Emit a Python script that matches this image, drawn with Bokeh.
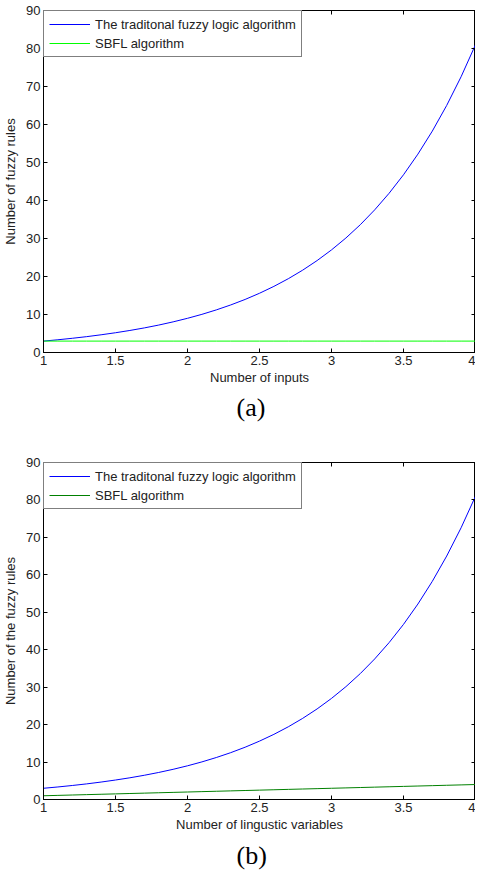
from bokeh.plotting import figure
from bokeh.layouts import column
from bokeh.models import (LinearAxis, FixedTicker, CustomJSTickFormatter, Title,
                          Legend, LegendItem, Range1d, CustomLabelingPolicy)
from bokeh.embed import file_html
from bokeh.resources import INLINE

# ---------------- data ----------------
x_vals = [1.0, 1.1, 1.2, 1.3, 1.4, 1.5, 1.6, 1.7, 1.8, 1.9, 2.0,
          2.1, 2.2, 2.3, 2.4, 2.5, 2.6, 2.7, 2.8, 2.9, 3.0,
          3.1, 3.2, 3.3, 3.4, 3.5, 3.6, 3.7, 3.8, 3.9, 4.0]
traditional_rules = [3.00, 3.35, 3.74, 4.17, 4.66, 5.20, 5.80, 6.47, 7.22, 8.06, 9.00,
                     10.04, 11.21, 12.51, 13.96, 15.59, 17.40, 19.42, 21.67, 24.19, 27.00,
                     30.13, 33.63, 37.54, 41.90, 46.77, 52.20, 58.26, 65.02, 72.57, 81.00]
sbfl_rules_a = [3.0, 3.0, 3.0, 3.0, 3.0, 3.0, 3.0, 3.0, 3.0, 3.0, 3.0,
                3.0, 3.0, 3.0, 3.0, 3.0, 3.0, 3.0, 3.0, 3.0, 3.0,
                3.0, 3.0, 3.0, 3.0, 3.0, 3.0, 3.0, 3.0, 3.0, 3.0]
sbfl_rules_b = [1.0, 1.1, 1.2, 1.3, 1.4, 1.5, 1.6, 1.7, 1.8, 1.9, 2.0,
                2.1, 2.2, 2.3, 2.4, 2.5, 2.6, 2.7, 2.8, 2.9, 3.0,
                3.1, 3.2, 3.3, 3.4, 3.5, 3.6, 3.7, 3.8, 3.9, 4.0]
x_ticks = [1, 1.5, 2, 2.5, 3, 3.5, 4]
y_ticks = [0, 10, 20, 30, 40, 50, 60, 70, 80, 90]
legend_labels = ["The traditonal fuzzy logic algorithm", "SBFL algorithm"]

FONT = "Liberation Sans"
SERIF = "Liberation Serif"
FS = "13px"


def mirror_axis(ticks):
    hide = CustomLabelingPolicy(
        code="for (let i = 0; i < indices.size; i++) { indices.unset(i) }; return indices")
    return LinearAxis(ticker=FixedTicker(ticks=ticks), major_tick_in=4, major_tick_out=0,
                      minor_tick_line_color=None, major_label_policy=hide,
                      major_label_text_font_size="0px",
                      major_label_standoff=0, axis_label_standoff=0,
                      axis_line_color="black")


def make_panel(ylabel, xlabel, caption, sbfl, sbfl_color, height, top_border,
               bottom_border, cap_standoff):
    p = figure(width=475, height=height, output_backend="svg",
               toolbar_location=None,
               x_range=Range1d(1, 4), y_range=Range1d(0, 90),
               min_border_left=38, min_border_right=0,
               min_border_top=top_border, min_border_bottom=bottom_border)
    p.grid.visible = False
    p.outline_line_color = "black"
    p.outline_line_width = 1
    p.background_fill_color = "white"
    p.border_fill_color = "white"

    fmt = CustomJSTickFormatter(code="return String(tick);")
    for ax in (p.xaxis[0], p.yaxis[0]):
        ax.major_tick_in = 4
        ax.major_tick_out = 0
        ax.minor_tick_line_color = None
        ax.axis_line_color = "black"
        ax.major_label_text_font = FONT
        ax.major_label_text_font_size = FS
        ax.major_label_text_color = "#222222"
        ax.axis_label_text_font = FONT
        ax.axis_label_text_font_size = FS
        ax.axis_label_text_font_style = "normal"
        ax.axis_label_text_color = "#222222"
        ax.formatter = fmt
    p.xaxis[0].ticker = FixedTicker(ticks=x_ticks)
    p.yaxis[0].ticker = FixedTicker(ticks=y_ticks)
    p.xaxis[0].axis_label = xlabel
    p.yaxis[0].axis_label = ylabel
    p.xaxis[0].major_label_standoff = 3
    p.xaxis[0].axis_label_standoff = 2
    p.yaxis[0].major_label_standoff = 3
    p.yaxis[0].axis_label_standoff = 5

    p.add_layout(mirror_axis(x_ticks), "above")
    p.add_layout(mirror_axis(y_ticks), "right")

    r1 = p.line(x_vals, traditional_rules, line_color="#0000FF", line_width=1)
    r2 = p.line(x_vals, sbfl, line_color=sbfl_color, line_width=1)

    legend = Legend(items=[LegendItem(label=legend_labels[0], renderers=[r1]),
                           LegendItem(label=legend_labels[1], renderers=[r2])],
                    location="top_left", margin=0, padding=5, spacing=3,
                    glyph_width=41, glyph_height=16, label_height=16, label_standoff=5,
                    label_text_font=FONT, label_text_font_size=FS,
                    label_text_color="#222222",
                    border_line_color="black", border_line_width=1,
                    background_fill_color="white", background_fill_alpha=1)
    p.add_layout(legend, "center")

    cap = Title(text=caption, align="left", offset=193, standoff=cap_standoff,
                text_font=SERIF, text_font_size="26px", text_font_style="normal",
                text_color="black")
    p.add_layout(cap, "below")
    return p


p1 = make_panel("Number of fuzzy rules", "Number of inputs", "(a)",
                sbfl_rules_a, "#00FF00", 432, 10, 80, 7)
p2 = make_panel("Number of the fuzzy rules", "Number of lingustic variables", "(b)",
                sbfl_rules_b, "#008000", 442, 30, 71, 9)

layout = column(p1, p2, spacing=0)
open("out.html", "w").write(file_html(layout, INLINE))
